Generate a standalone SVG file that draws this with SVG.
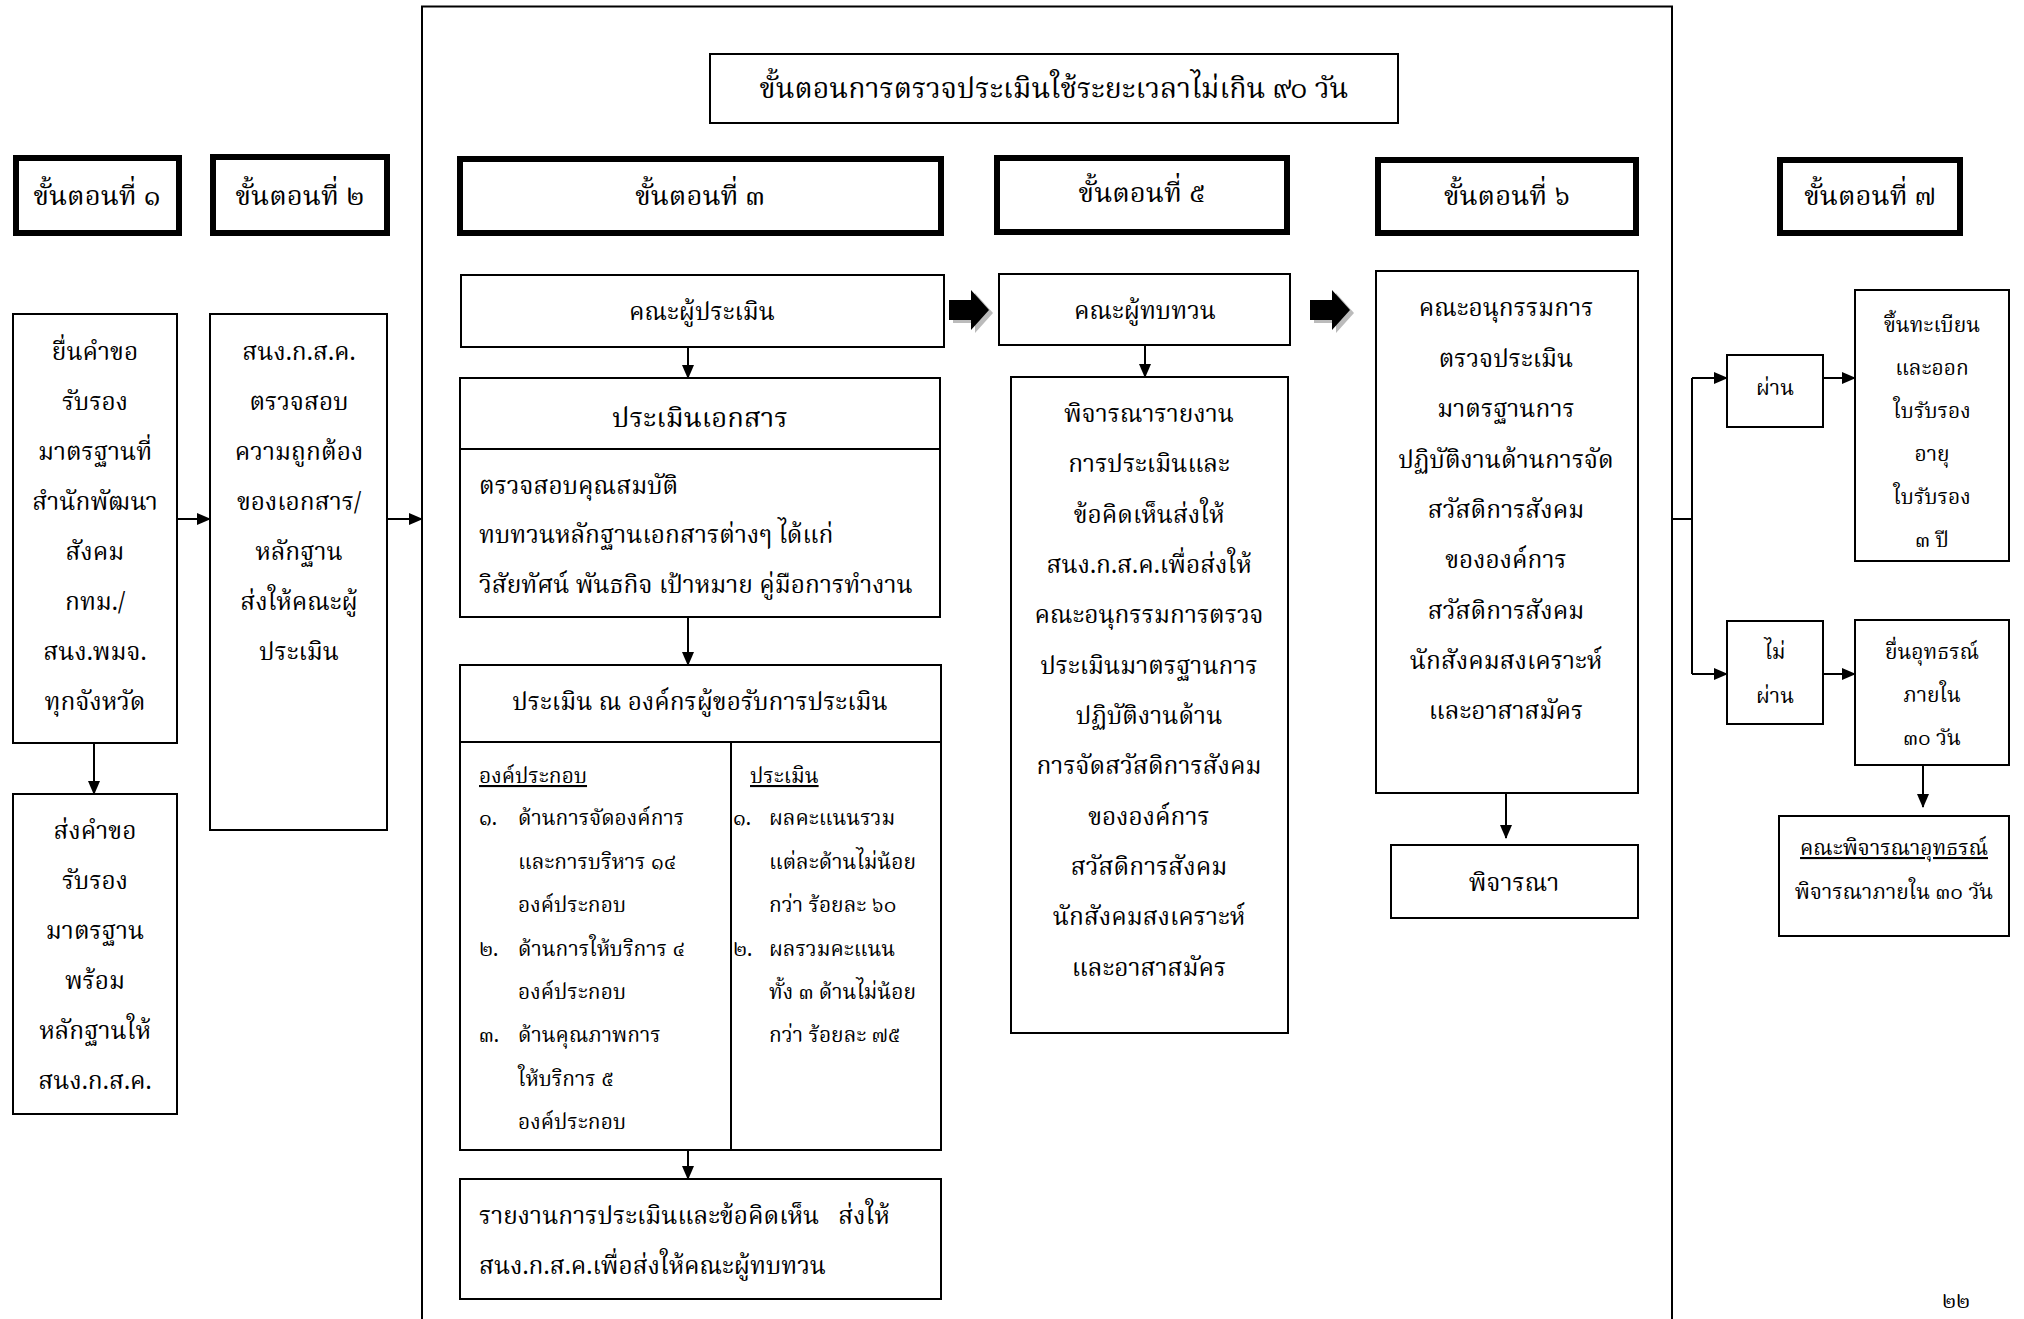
<svg xmlns="http://www.w3.org/2000/svg" width="2024" height="1319" viewBox="0 0 2024 1319">
<style>
text{font-family:"Noto Serif Thai","Norasi","Noto Sans Thai","Noto Sans","Liberation Serif",serif;fill:#000;font-size:24.5px}
.c{text-anchor:middle}
.box{fill:#fff;stroke:#000;stroke-width:2}
.hd{fill:#fff;stroke:#000;stroke-width:6}
.ln{fill:none;stroke:#000;stroke-width:2}
.hdt{font-size:27.5px}
.u{text-decoration:underline}
.sm{font-size:21px}
</style>
<defs>
<marker id="ah" markerWidth="14" markerHeight="12" refX="13" refY="6" orient="auto" markerUnits="userSpaceOnUse">
<path d="M0,0 L14,6 L0,12 Z" fill="#000"/>
</marker>
<g id="blk">
<path d="M0,-10 H22 V-20 L40,0 L22,20 V10 H0 Z"/>
</g>
</defs>
<rect width="2024" height="1319" fill="#fff"/>

<g id="frame"><path class="ln" d="M422,1319 V6.5 H1672 V1319"/></g>

<g id="title"><rect class="box" x="710" y="54" width="688" height="69"/><text class="c" x="1054" y="98" style="font-size:28.5px">ขั้นตอนการตรวจประเมินใช้ระยะเวลาไม่เกิน ๙๐ วัน</text></g>

<g id="step1"><rect class="hd" x="16" y="158" width="163" height="75"/><text class="c hdt" x="97" y="205">ขั้นตอนที่ ๑</text></g>
<g id="step2"><rect class="hd" x="213" y="157" width="174" height="76"/><text class="c hdt" x="300" y="205">ขั้นตอนที่ ๒</text></g>
<g id="step3"><rect class="hd" x="460" y="159" width="481" height="74"/><text class="c hdt" x="700" y="205">ขั้นตอนที่ ๓</text></g>
<g id="step5"><rect class="hd" x="997" y="158" width="290" height="74"/><text class="c hdt" x="1142" y="202">ขั้นตอนที่ ๕</text></g>
<g id="step6"><rect class="hd" x="1378" y="160" width="258" height="73"/><text class="c hdt" x="1507" y="205">ขั้นตอนที่ ๖</text></g>
<g id="step7"><rect class="hd" x="1780" y="160" width="180" height="73"/><text class="c hdt" x="1870" y="205">ขั้นตอนที่ ๗</text></g>

<g id="n1"><rect class="box" x="13" y="314" width="164" height="429"/>
<text class="c" x="95"><tspan x="95" y="360">ยื่นคำขอ</tspan><tspan x="95" y="410">รับรอง</tspan><tspan x="95" y="460">มาตรฐานที่</tspan><tspan x="95" y="510">สำนักพัฒนา</tspan><tspan x="95" y="560">สังคม</tspan><tspan x="95" y="610">กทม./</tspan><tspan x="95" y="660">สนง.พมจ.</tspan><tspan x="95" y="710">ทุกจังหวัด</tspan></text></g>

<g id="n1b"><rect class="box" x="13" y="794" width="164" height="320"/>
<text class="c" x="95"><tspan x="95" y="839">ส่งคำขอ</tspan><tspan x="95" y="889">รับรอง</tspan><tspan x="95" y="939">มาตรฐาน</tspan><tspan x="95" y="989">พร้อม</tspan><tspan x="95" y="1039">หลักฐานให้</tspan><tspan x="95" y="1089">สนง.ก.ส.ค.</tspan></text></g>

<g id="n2"><rect class="box" x="210" y="314" width="177" height="516"/>
<text class="c" x="299"><tspan x="299" y="360">สนง.ก.ส.ค.</tspan><tspan x="299" y="410">ตรวจสอบ</tspan><tspan x="299" y="460">ความถูกต้อง</tspan><tspan x="299" y="510">ของเอกสาร/</tspan><tspan x="299" y="560">หลักฐาน</tspan><tspan x="299" y="610">ส่งให้คณะผู้</tspan><tspan x="299" y="660">ประเมิน</tspan></text></g>

<g id="n3a"><rect class="box" x="461" y="275" width="483" height="72"/><text class="c" x="702" y="320">คณะผู้ประเมิน</text></g>

<g id="n3b"><rect class="box" x="460" y="378" width="480" height="239"/><line class="ln" x1="460" y1="449" x2="940" y2="449"/>
<text class="c" x="700" y="427" style="font-size:27.5px">ประเมินเอกสาร</text>
<text x="479"><tspan x="479" y="494">ตรวจสอบคุณสมบัติ</tspan><tspan x="479" y="543">ทบทวนหลักฐานเอกสารต่างๆ ได้แก่</tspan><tspan x="479" y="593">วิสัยทัศน์ พันธกิจ เป้าหมาย คู่มือการทำงาน</tspan></text></g>

<g id="n3c"><rect class="box" x="460" y="665" width="481" height="485"/><line class="ln" x1="460" y1="742" x2="941" y2="742"/><line class="ln" x1="731" y1="742" x2="731" y2="1150"/>
<text class="c" x="700" y="710">ประเมิน ณ องค์กรผู้ขอรับการประเมิน</text>
<text x="479" y="783" class="sm u">องค์ประกอบ</text>
<text x="479" y="825" class="sm">๑.</text><text x="518" y="825" class="sm">ด้านการจัดองค์การ</text>
<text x="518" y="869" class="sm">และการบริหาร ๑๔</text>
<text x="518" y="912" class="sm">องค์ประกอบ</text>
<text x="479" y="956" class="sm">๒.</text><text x="518" y="956" class="sm">ด้านการให้บริการ ๔</text>
<text x="518" y="999" class="sm">องค์ประกอบ</text>
<text x="479" y="1042" class="sm">๓.</text><text x="518" y="1042" class="sm">ด้านคุณภาพการ</text>
<text x="518" y="1086" class="sm">ให้บริการ ๕</text>
<text x="518" y="1129" class="sm">องค์ประกอบ</text>
<text x="750" y="783" class="sm u">ประเมิน</text>
<text x="733" y="825" class="sm">๑.</text><text x="769" y="825" class="sm">ผลคะแนนรวม</text>
<text x="769" y="869" class="sm">แต่ละด้านไม่น้อย</text>
<text x="769" y="912" class="sm">กว่า ร้อยละ ๖๐</text>
<text x="733" y="956" class="sm">๒.</text><text x="769" y="956" class="sm">ผลรวมคะแนน</text>
<text x="769" y="999" class="sm">ทั้ง ๓ ด้านไม่น้อย</text>
<text x="769" y="1042" class="sm">กว่า ร้อยละ ๗๕</text>
</g>

<g id="n3d"><rect class="box" x="460" y="1179" width="481" height="120"/>
<text x="479" style="white-space:pre"><tspan x="479" y="1224">รายงานการประเมินและข้อคิดเห็น   ส่งให้</tspan><tspan x="479" y="1274">สนง.ก.ส.ค.เพื่อส่งให้คณะผู้ทบทวน</tspan></text></g>

<g id="n5a"><rect class="box" x="999" y="274" width="291" height="71"/><text class="c" x="1145" y="319">คณะผู้ทบทวน</text></g>

<g id="n5b"><rect class="box" x="1011" y="377" width="277" height="656"/>
<text class="c" x="1149"><tspan x="1149" y="422">พิจารณารายงาน</tspan><tspan x="1149" y="472">การประเมินและ</tspan><tspan x="1149" y="523">ข้อคิดเห็นส่งให้</tspan><tspan x="1149" y="573">สนง.ก.ส.ค.เพื่อส่งให้</tspan><tspan x="1149" y="623">คณะอนุกรรมการตรวจ</tspan><tspan x="1149" y="674">ประเมินมาตรฐานการ</tspan><tspan x="1149" y="724">ปฏิบัติงานด้าน</tspan><tspan x="1149" y="774">การจัดสวัสดิการสังคม</tspan><tspan x="1149" y="825">ขององค์การ</tspan><tspan x="1149" y="875">สวัสดิการสังคม</tspan><tspan x="1149" y="925">นักสังคมสงเคราะห์</tspan><tspan x="1149" y="976">และอาสาสมัคร</tspan></text></g>

<g id="n6a"><rect class="box" x="1376" y="271" width="262" height="522"/>
<text class="c" x="1506"><tspan x="1506" y="316">คณะอนุกรรมการ</tspan><tspan x="1506" y="367">ตรวจประเมิน</tspan><tspan x="1506" y="417">มาตรฐานการ</tspan><tspan x="1506" y="468">ปฏิบัติงานด้านการจัด</tspan><tspan x="1506" y="518">สวัสดิการสังคม</tspan><tspan x="1506" y="568">ขององค์การ</tspan><tspan x="1506" y="619">สวัสดิการสังคม</tspan><tspan x="1506" y="669">นักสังคมสงเคราะห์</tspan><tspan x="1506" y="719">และอาสาสมัคร</tspan></text></g>

<g id="n6b"><rect class="box" x="1391" y="845" width="247" height="73"/><text class="c" x="1514" y="891">พิจารณา</text></g>

<g id="n7pass"><rect class="box" x="1727" y="355" width="96" height="72"/><text class="c sm" x="1775" y="395">ผ่าน</text></g>
<g id="n7reg"><rect class="box" x="1855" y="290" width="154" height="271"/>
<text class="c sm" x="1932"><tspan x="1932" y="332">ขึ้นทะเบียน</tspan><tspan x="1932" y="375">และออก</tspan><tspan x="1932" y="418">ใบรับรอง</tspan><tspan x="1932" y="461">อายุ</tspan><tspan x="1932" y="504">ใบรับรอง</tspan><tspan x="1932" y="547">๓ ปี</tspan></text></g>
<g id="n7fail"><rect class="box" x="1727" y="621" width="96" height="103"/>
<text class="c sm" x="1775"><tspan x="1775" y="659">ไม่</tspan><tspan x="1775" y="703">ผ่าน</tspan></text></g>
<g id="n7app"><rect class="box" x="1855" y="620" width="154" height="145"/>
<text class="c sm" x="1932"><tspan x="1932" y="659">ยื่นอุทธรณ์</tspan><tspan x="1932" y="702">ภายใน</tspan><tspan x="1932" y="745">๓๐ วัน</tspan></text></g>
<g id="n7com"><rect class="box" x="1779" y="816" width="230" height="120"/>
<text class="c sm u" x="1894" y="855">คณะพิจารณาอุทธรณ์</text><text class="c sm" x="1894" y="899">พิจารณาภายใน ๓๐ วัน</text></g>

<g id="pageno"><text class="c sm" x="1956" y="1308">๒๒</text></g>

<g id="connectors">
<path class="ln" d="M94,743 V794" marker-end="url(#ah)"/>
<path class="ln" d="M177,519 H210" marker-end="url(#ah)"/>
<path class="ln" d="M387,519 H422" marker-end="url(#ah)"/>
<path class="ln" d="M688,347 V378" marker-end="url(#ah)"/>
<path class="ln" d="M688,617 V665" marker-end="url(#ah)"/>
<path class="ln" d="M688,1150 V1179" marker-end="url(#ah)"/>
<path class="ln" d="M1145,345 V377" marker-end="url(#ah)"/>
<path class="ln" d="M1506,793 V838" marker-end="url(#ah)"/>
<path class="ln" d="M1672,519 H1692"/>
<path class="ln" d="M1692,378 V674"/>
<path class="ln" d="M1692,378 H1727" marker-end="url(#ah)"/>
<path class="ln" d="M1692,674 H1727" marker-end="url(#ah)"/>
<path class="ln" d="M1823,378 H1855" marker-end="url(#ah)"/>
<path class="ln" d="M1823,674 H1855" marker-end="url(#ah)"/>
<path class="ln" d="M1923,765 V807" marker-end="url(#ah)"/>
<use href="#blk" x="953" y="313" fill="#bbb"/>
<use href="#blk" x="949" y="310" fill="#000"/>
<use href="#blk" x="1314" y="313" fill="#bbb"/>
<use href="#blk" x="1310" y="310" fill="#000"/>
</g>
</svg>
